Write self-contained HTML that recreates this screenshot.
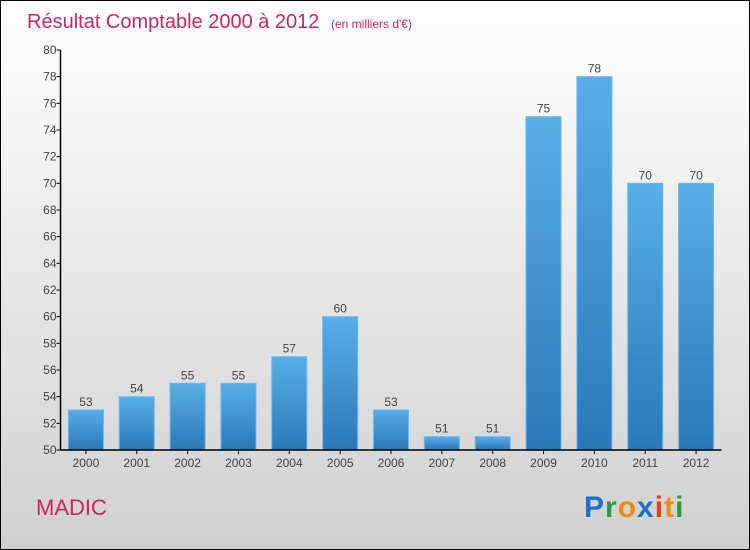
<!DOCTYPE html>
<html><head><meta charset="utf-8"><style>
body{margin:0}
#c{position:relative;width:748px;height:548px;border:1px solid #000;background:linear-gradient(#fff,#f6f6f6 20%,#d0d0d0);font-family:"Liberation Sans",sans-serif;overflow:hidden}
</style></head><body>
<div id="c">
<svg id="s" width="748" height="548">
<defs><linearGradient id="g" x1="0" y1="0" x2="0" y2="1"><stop offset="0" stop-color="#5aaee8"/><stop offset="1" stop-color="#2a78b8"/></linearGradient></defs>
<text x="26" y="27" font-size="20" fill="#c8285a">Résultat Comptable 2000 à 2012 <tspan font-size="12" dx="6">(en milliers d'€)</tspan></text>
<text x="35" y="514" font-size="22" fill="#c8285a">MADIC</text>
<text x="583" y="516" font-size="30" font-weight="bold" letter-spacing="1"><tspan fill="#1a73c8">P</tspan><tspan fill="#2a9a3a">r</tspan><tspan fill="#f08a10">o</tspan><tspan fill="#1a73c8">x</tspan><tspan fill="#e84010">i</tspan><tspan fill="#f08a10">t</tspan><tspan fill="#2a9a3a">i</tspan></text>
<g id="plot"></g>
</svg>
</div>
<script>
const years=["2000","2001","2002","2003","2004","2005","2006","2007","2008","2009","2010","2011","2012"];
const values=[53,54,55,55,57,60,53,51,51,75,78,70,70];
const yTicks=[50,52,54,56,58,60,62,64,66,68,70,72,74,76,78,80];
const NS="http://www.w3.org/2000/svg";
const g=document.getElementById('plot');
const x0=59.5,x1=720.5,yMin=50,yMax=80,pTop=49,pBot=449;
const band=(x1-x0)/years.length;
const y=v=>pBot-(v-yMin)/(yMax-yMin)*(pBot-pTop);
function mk(t,a){const e=document.createElementNS(NS,t);for(const k in a)e.setAttribute(k,a[k]);g.appendChild(e);return e;}
yTicks.forEach(t=>{
 const l=mk('line',{x1:x0-4,x2:x0,y1:y(t),y2:y(t),stroke:'#000'});
 
 
 const tx=mk('text',{x:x0-4,y:y(t)+4,'font-size':12,'text-anchor':'end',fill:'#444'});
 tx.textContent=t;
 
 
});
years.forEach((yr,i)=>{
 const cx=x0+band*(i+0.5);
 const v=values[i];
 const r=mk('rect',{x:cx-17.5,y:y(v),width:35,height:pBot-y(v),fill:'url(#g)',stroke:'#6ab8ee','stroke-width':1});
 
 
 const vl=mk('text',{x:cx,y:y(v)-4,'font-size':12,'text-anchor':'middle',fill:'#444'});
 vl.textContent=v;
 
 
 const tk=mk('line',{x1:cx,x2:cx,y1:pBot,y2:pBot+4,stroke:'#000'});
 
 
 const xl=mk('text',{x:cx,y:pBot+17,'font-size':12,'text-anchor':'middle',fill:'#444'});
 xl.textContent=yr;
 
 
});
const ya=mk('line',{x1:x0,x2:x0,y1:pTop,y2:pBot,stroke:'#000','stroke-width':1.5});


const xa=mk('line',{x1:x0,x2:x1,y1:pBot,y2:pBot,stroke:'#000','stroke-width':1.5});


</script>
</body></html>
